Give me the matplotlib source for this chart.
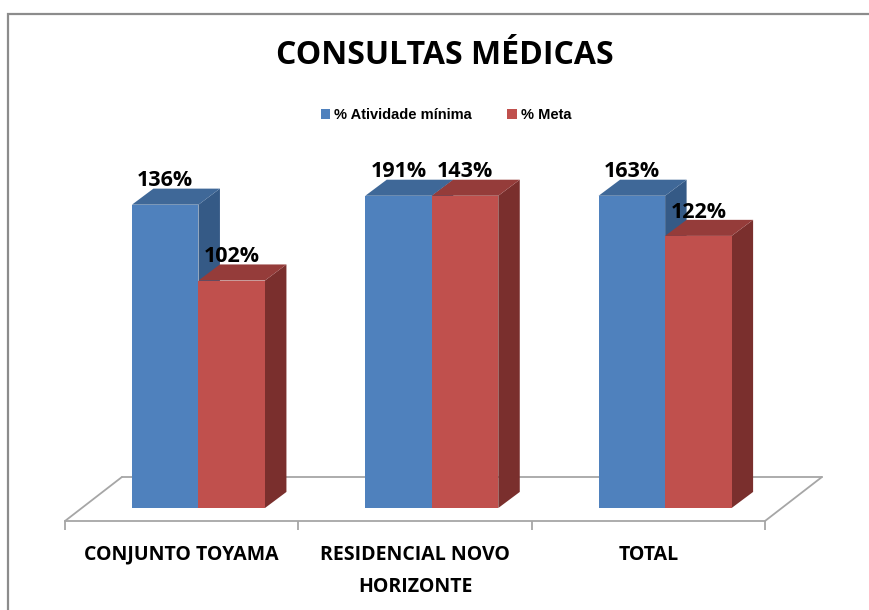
import numpy as np
import matplotlib
matplotlib.use('Agg')
import matplotlib.pyplot as plt
from matplotlib.patches import Polygon, Patch, Rectangle

# data
categories = ['CONJUNTO TOYAMA', 'RESIDENCIAL NOVO\nHORIZONTE', 'TOTAL']
series_names = ['% Atividade mínima', '% Meta']
atividade = [136, 191, 163]
meta = [102, 143, 122]
y_max = 140  # axis max of the original chart, taller bars are cut here

front_cols = ['#4F81BD', '#C0504D']
top_cols = ['#3F6898', '#953C3A']
side_cols = ['#355A86', '#7A2F2D']

W, H = 870, 610
fig = plt.figure(figsize=(W / 100, H / 100), dpi=100)

# axes placed so that 1 unit in x = one category slot
ax = fig.add_axes([65 / W, 1 - 521 / H, 700 / W, (521 - 140) / H])
ax.set_xlim(-0.5, 2.5)
ax.set_ylim(-5.83, 165)

bar_w = 0.285
offsets = [-0.213, 0.072]
ddx, ddy = 0.092, 7.2          # depth of the bars
floor_dx, floor_y = 0.244, 13.9  # back edge of the floor

# floor
floor_kw = dict(color='#a6a6a6', lw=1.3, zorder=1, solid_capstyle='round', clip_on=False)
ax.plot([-0.5, -0.5 + floor_dx], [-5.83, floor_y], **floor_kw)
ax.plot([-0.5 + floor_dx, 2.5 + floor_dx], [floor_y, floor_y], **floor_kw)
ax.plot([2.5, 2.5 + floor_dx], [-5.83, floor_y], **floor_kw)

x = np.arange(len(categories))
for i in x:
    for s, vals in enumerate([atividade, meta]):
        v = vals[i]
        h = min(v, y_max)
        x0 = i + offsets[s]
        x1 = x0 + bar_w
        side = [(x1, 0), (x1 + ddx, ddy), (x1 + ddx, h + ddy), (x1, h)]
        top = [(x0, h), (x0 + ddx, h + ddy), (x1 + ddx, h + ddy), (x1, h)]
        ax.add_patch(Polygon(side, closed=True, facecolor=side_cols[s],
                             edgecolor='none', zorder=3, clip_on=False))
        ax.add_patch(Polygon(top, closed=True, facecolor=top_cols[s],
                             edgecolor='none', zorder=3, clip_on=False))
        ax.bar(x0, h, width=bar_w, align='edge', color=front_cols[s],
               edgecolor='none', zorder=3)
        ax.text(x0 + bar_w / 2, h + ddy - 1.2, f'{v}%', ha='center', va='bottom',
                fontsize=15.5, fontweight='bold', family='Open Sans',
                color='black', zorder=5)

for sp in ['top', 'right', 'left']:
    ax.spines[sp].set_visible(False)
ax.spines['bottom'].set_color('#a6a6a6')
ax.spines['bottom'].set_linewidth(1.3)
ax.set_yticks([])
ax.set_xticks(x)
ax.set_xticklabels(categories, fontsize=14, fontweight='bold', family='Open Sans')
for lbl in ax.get_xticklabels():
    lbl.set_linespacing(1.8)
ax.tick_params(axis='x', which='major', length=0, pad=17)
ax.set_xticks([-0.5, 0.5, 1.5, 2.5], minor=True)
ax.tick_params(axis='x', which='minor', length=6.5, width=1.3, color='#a6a6a6')

# title and legend
fig.text(445 / W, 1 - 56 / H, 'CONSULTAS MÉDICAS', ha='center', va='center',
         fontsize=23, fontweight='bold', family='Open Sans')
handles = [Patch(facecolor=c, edgecolor='none') for c in front_cols]
fig.legend(handles, series_names, loc='center', bbox_to_anchor=(446 / W, 1 - 115 / H),
           ncol=2, frameon=False, handlelength=0.65, handleheight=0.65,
           handletextpad=0.3, columnspacing=2.4,
           prop=dict(family=['Liberation Sans Narrow', 'Liberation Sans'],
                     weight='bold', size=10.5))

# chart border (cut by the image edges)
fig.add_artist(Rectangle((8 / W, -0.05), 1.2, 1 - 14 / H + 0.05,
                         transform=fig.transFigure, fill=False,
                         edgecolor='#8c8c8c', lw=1.6))

fig.savefig('out.png', dpi=100)
